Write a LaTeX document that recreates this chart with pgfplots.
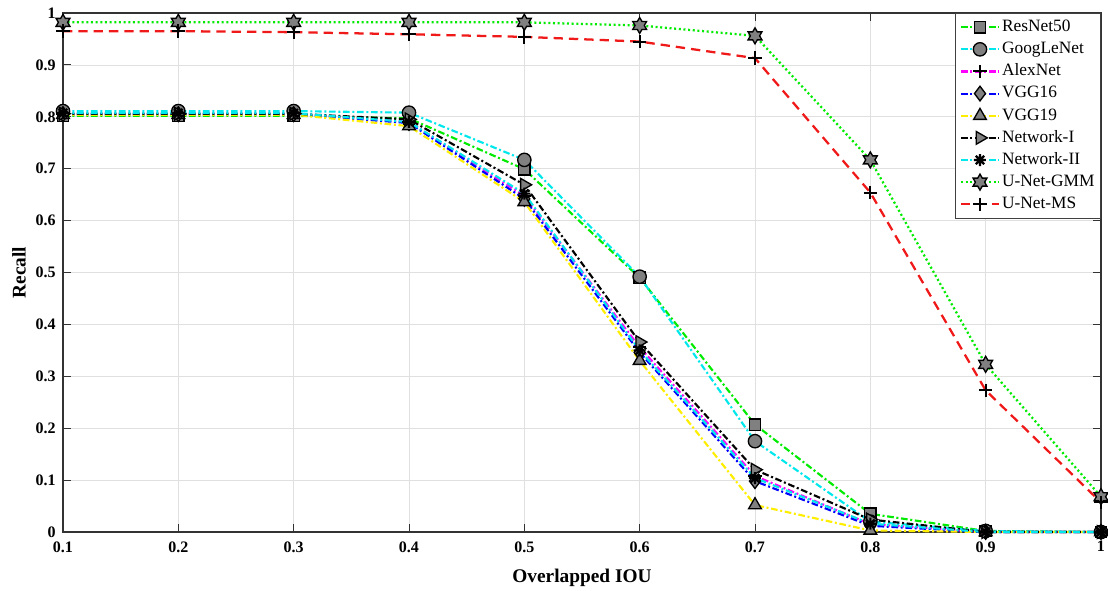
\documentclass[border=0pt]{standalone}
\usepackage{fontspec}
\setmainfont{Liberation Serif}
\usepackage{pgfplots}
\pgfplotsset{compat=1.18}

\definecolor{mgreen}{RGB}{0,235,0}
\definecolor{mcyan}{RGB}{0,232,235}
\definecolor{mmag}{RGB}{255,0,255}
\definecolor{mblue}{RGB}{0,0,255}
\definecolor{myellow}{RGB}{255,238,0}
\definecolor{mred}{RGB}{240,25,25}
\definecolor{mgray}{RGB}{128,128,128}

% six-pointed star (hexagram)
\pgfdeclareplotmark{hexagram}{%
  \pgfpathmoveto{\pgfpointpolar{90}{\pgfplotmarksize}}%
  \pgfpathlineto{\pgfpointpolar{120}{0.577\pgfplotmarksize}}%
  \pgfpathlineto{\pgfpointpolar{150}{\pgfplotmarksize}}%
  \pgfpathlineto{\pgfpointpolar{180}{0.577\pgfplotmarksize}}%
  \pgfpathlineto{\pgfpointpolar{210}{\pgfplotmarksize}}%
  \pgfpathlineto{\pgfpointpolar{240}{0.577\pgfplotmarksize}}%
  \pgfpathlineto{\pgfpointpolar{270}{\pgfplotmarksize}}%
  \pgfpathlineto{\pgfpointpolar{300}{0.577\pgfplotmarksize}}%
  \pgfpathlineto{\pgfpointpolar{330}{\pgfplotmarksize}}%
  \pgfpathlineto{\pgfpointpolar{0}{0.577\pgfplotmarksize}}%
  \pgfpathlineto{\pgfpointpolar{30}{\pgfplotmarksize}}%
  \pgfpathlineto{\pgfpointpolar{60}{0.577\pgfplotmarksize}}%
  \pgfpathclose
  \pgfusepathqfillstroke}
% eight-armed asterisk
\pgfdeclareplotmark{ast8}{%
  \pgfpathmoveto{\pgfqpoint{-\pgfplotmarksize}{0pt}}\pgfpathlineto{\pgfqpoint{\pgfplotmarksize}{0pt}}%
  \pgfpathmoveto{\pgfqpoint{0pt}{-\pgfplotmarksize}}\pgfpathlineto{\pgfqpoint{0pt}{\pgfplotmarksize}}%
  \pgfpathmoveto{\pgfpointpolar{45}{\pgfplotmarksize}}\pgfpathlineto{\pgfpointpolar{225}{\pgfplotmarksize}}%
  \pgfpathmoveto{\pgfpointpolar{135}{\pgfplotmarksize}}\pgfpathlineto{\pgfpointpolar{315}{\pgfplotmarksize}}%
  \pgfusepathqstroke}

\tikzset{
  dashdot/.style={dash pattern=on 5pt off 2pt on 1.5pt off 2pt},
  mk/.style={solid, draw=black, fill=mgray, line width=1pt},
}

\begin{document}
\begin{tikzpicture}
\useasboundingbox (-47.25pt,-43.5pt) rectangle (783.75pt,399pt);
\begin{axis}[
  at={(0,0)}, anchor=south west,
  scale only axis,
  width=778.5pt, height=389.25pt,
  xmin=0.1, xmax=1, ymin=0, ymax=1,
  xtick={0.1,0.2,0.3,0.4,0.5,0.6,0.7,0.8,0.9,1},
  xticklabels={0.1,0.2,0.3,0.4,0.5,0.6,0.7,0.8,0.9,1},
  ytick={0,0.1,0.2,0.3,0.4,0.5,0.6,0.7,0.8,0.9,1},
  yticklabels={0,0.1,0.2,0.3,0.4,0.5,0.6,0.7,0.8,0.9,1},
  tick align=inside,
  major tick length=6pt,
  tick style={black!80, line width=0.7pt},
  axis line style={black!80, line width=0.8pt},
  grid=major,
  major grid style={black!12, line width=0.6pt},
  tick label style={font=\fontsize{12}{14}\selectfont\bfseries},
  xticklabel style={yshift=-3.5pt},
  yticklabel style={xshift=-2pt},
  xlabel={Overlapped IOU},
  ylabel={Recall},
  every axis x label/.style={at={(axis description cs:0.5,-0.088)}, anchor=center,
    font=\fontsize{14.5}{16}\selectfont\bfseries},
  every axis y label/.style={at={(axis description cs:-0.0425,0.5)}, anchor=center, rotate=90,
    font=\fontsize{14.5}{16}\selectfont\bfseries},
  clip=false,
  legend style={
    at={(rel axis cs:1,1)}, anchor=north east,
    draw=black!75, line width=0.7pt, fill=white,
    font=\fontsize{13}{15}\selectfont,
    nodes={inner sep=1.5pt, text height=10pt, text depth=3.6pt},
    /tikz/every even column/.append style={column sep=1pt},
  },
  legend cell align=left,
  legend image code/.code={%
    \draw[mark repeat=2, mark phase=2] plot coordinates {(0cm,0cm) (0.5cm,0cm) (1cm,0cm)};},
]

\addplot[mgreen, line width=1.6pt, dashdot, mark=square*, mark size=4.3pt, mark options={mk}]
  coordinates {(0.1,0.802) (0.2,0.802) (0.3,0.802) (0.4,0.797) (0.5,0.699)
               (0.6,0.490) (0.7,0.207) (0.8,0.035) (0.9,0.002) (1.0,0.000)};
\addlegendentry{ResNet50}

\addplot[mcyan, line width=1.6pt, dashdot, mark=*, mark size=5pt, mark options={mk}]
  coordinates {(0.1,0.811) (0.2,0.811) (0.3,0.811) (0.4,0.808) (0.5,0.717)
               (0.6,0.492) (0.7,0.175) (0.8,0.020) (0.9,0.002) (1.0,0.000)};
\addlegendentry{GoogLeNet}

\addplot[mmag, line width=1.6pt, dashdot, mark=+, mark size=5pt, mark options={solid, draw=black, line width=1.5pt}]
  coordinates {(0.1,0.806) (0.2,0.806) (0.3,0.806) (0.4,0.790) (0.5,0.648)
               (0.6,0.356) (0.7,0.108) (0.8,0.015) (0.9,0.000) (1.0,0.000)};
\addlegendentry{AlexNet}

\addplot[mblue, line width=1.6pt, dashdot, mark=diamond*, mark size=5.5pt, mark options={mk}]
  coordinates {(0.1,0.805) (0.2,0.805) (0.3,0.805) (0.4,0.788) (0.5,0.642)
               (0.6,0.346) (0.7,0.098) (0.8,0.012) (0.9,0.000) (1.0,0.000)};
\addlegendentry{VGG16}

\addplot[myellow, line width=1.6pt, dashdot, mark=triangle*, mark size=5.5pt, mark options={mk}]
  coordinates {(0.1,0.804) (0.2,0.804) (0.3,0.804) (0.4,0.782) (0.5,0.636)
               (0.6,0.330) (0.7,0.052) (0.8,0.003) (0.9,0.000) (1.0,0.000)};
\addlegendentry{VGG19}

\addplot[black, line width=1.6pt, dashdot, mark=triangle*, mark size=5.5pt, mark options={mk, rotate=-90}]
  coordinates {(0.1,0.806) (0.2,0.806) (0.3,0.806) (0.4,0.795) (0.5,0.669)
               (0.6,0.366) (0.7,0.120) (0.8,0.024) (0.9,0.000) (1.0,0.000)};
\addlegendentry{Network-I}

\addplot[mcyan, line width=1.6pt, dashdot, mark=ast8, mark size=4.5pt, mark options={solid, draw=black, line width=1.6pt}]
  coordinates {(0.1,0.807) (0.2,0.807) (0.3,0.807) (0.4,0.790) (0.5,0.652)
               (0.6,0.350) (0.7,0.104) (0.8,0.016) (0.9,0.000) (1.0,0.000)};
\addlegendentry{Network-II}

\addplot[mgreen, line width=1.7pt, dash pattern=on 1.5pt off 2pt, mark=hexagram, mark size=6pt, mark options={mk}]
  coordinates {(0.1,0.982) (0.2,0.982) (0.3,0.982) (0.4,0.982) (0.5,0.982)
               (0.6,0.976) (0.7,0.956) (0.8,0.717) (0.9,0.323) (1.0,0.068)};
\addlegendentry{U-Net-GMM}

\addplot[mred, line width=1.7pt, dash pattern=on 7pt off 4.5pt, mark=+, mark size=5pt, mark options={solid, draw=black, line width=1.5pt}]
  coordinates {(0.1,0.965) (0.2,0.965) (0.3,0.963) (0.4,0.959) (0.5,0.954)
               (0.6,0.945) (0.7,0.913) (0.8,0.654) (0.9,0.273) (1.0,0.057)};
\addlegendentry{U-Net-MS}

\end{axis}
\end{tikzpicture}
\end{document}
